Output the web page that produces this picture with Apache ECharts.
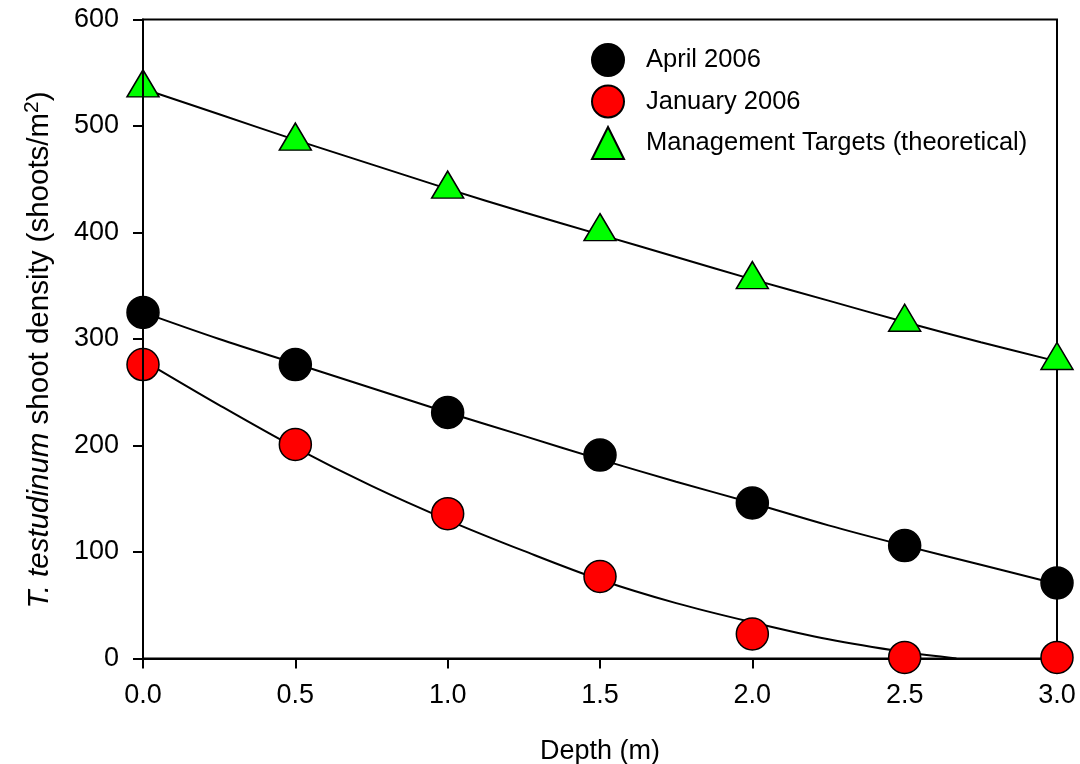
<!DOCTYPE html>
<html>
<head>
<meta charset="utf-8">
<title>T. testudinum shoot density vs depth</title>
<script src="https://cdn.jsdelivr.net/npm/echarts@6/dist/echarts.min.js"></script>
<style>
  html, body { margin: 0; padding: 0; background: #fff; }
  #chart { width: 1080px; height: 764px; }
</style>
</head>
<body>
<div id="chart"></div>
<script>
// Measured shoot densities by depth
const depth = [0, 0.5, 1.0, 1.5, 2.0, 2.5, 3.0];
const april2006 = [325, 276, 231, 191, 146, 106, 71];
const january2006 = [276, 201, 136, 77, 23, 1, 1];
const managementTargets = [540, 490, 445, 405, 360, 320, 284];

// Regression curves through each series
const fitDepth = [0, 0.25, 0.5, 0.75, 1.0, 1.25, 1.5, 1.75, 2.0, 2.25, 2.5, 2.75, 3.0];
const aprilFit = [325, 300, 277, 254, 231, 209, 187, 166, 146, 125, 106, 88, 70];
const managementFit = [535, 511, 487, 464, 441, 419, 398, 377, 356, 336, 316, 297, 279];
const januaryFitDepth = [0, 0.25, 0.5, 0.75, 1.0, 1.25, 1.5, 1.75, 2.0, 2.25, 2.5, 2.67];
const januaryFit = [280, 238, 198, 162, 130, 101, 74, 52, 34, 18, 6, 0];

// Axis ticks
const xTicks = { min: 0, max: 3, step: 0.5 };
const yTicks = { min: 0, max: 600, step: 100 };

const seriesNames = ['April 2006', 'January 2006', 'Management Targets (theoretical)'];

const FONT = "'Liberation Sans', Arial, Helvetica, sans-serif";
const pairs = (xs, ys) => xs.map((x, i) => [x, ys[i]]);

const chart = echarts.init(document.getElementById('chart'), null, { renderer: 'canvas' });

function fitLine(xs, ys) {
  return {
    type: 'line',
    data: pairs(xs, ys),
    showSymbol: false,
    symbol: 'none',
    smooth: 0.35,
    clip: true,
    z: 2,
    silent: true,
    lineStyle: { color: '#000', width: 2 }
  };
}

function points(name, ys, symbol, size, fill) {
  return {
    name: name,
    type: 'scatter',
    data: pairs(depth, ys),
    symbol: symbol,
    symbolSize: size,
    clip: false,
    z: 3,
    itemStyle: { color: fill, borderColor: '#000', borderWidth: 1.5, opacity: 1 }
  };
}

chart.setOption({
  animation: false,
  backgroundColor: '#fff',
  textStyle: { fontFamily: FONT, color: '#000' },
  grid: {
    left: 143, right: 23, top: 19.5, bottom: 105.5,
    outerBoundsMode: 'none',
    containLabel: false,
    show: true,
    borderColor: '#000',
    borderWidth: 2,
    backgroundColor: 'transparent'
  },
  legend: {
    data: seriesNames,
    orient: 'vertical',
    left: 586,
    top: 38,
    itemWidth: 32,
    itemHeight: 32,
    itemGap: 7.5,
    selectedMode: false,
    textStyle: { fontFamily: FONT, fontSize: 25.5, color: '#000', padding: [0, 0, 0, 17] }
  },
  xAxis: {
    type: 'value',
    min: xTicks.min,
    max: xTicks.max,
    interval: xTicks.step,
    name: 'Depth (m)',
    nameLocation: 'middle',
    nameGap: 80,
    nameTextStyle: { fontFamily: FONT, fontSize: 27, color: '#000' },
    axisLine: { show: true, onZero: false, lineStyle: { color: '#000', width: 2 } },
    axisTick: { show: true, inside: false, length: 10, lineStyle: { color: '#000', width: 2 } },
    axisLabel: {
      margin: 24, fontFamily: FONT, fontSize: 27, color: '#000',
      formatter: v => v.toFixed(1)
    },
    splitLine: { show: false }
  },
  yAxis: {
    type: 'value',
    min: yTicks.min,
    max: yTicks.max,
    interval: yTicks.step,
    z: 4,
    name: '{it|T. testudinum}{n| shoot density (shoots/m}{sup|2}{n|)}',
    nameLocation: 'middle',
    nameGap: 88,
    nameTextStyle: {
      fontFamily: FONT, fontSize: 29.5, color: '#000',
      padding: [0, 22, 0, 0],
      rich: {
        it: { fontFamily: FONT, fontSize: 29.5, fontStyle: 'italic', color: '#000', verticalAlign: 'bottom' },
        n: { fontFamily: FONT, fontSize: 29.5, color: '#000', verticalAlign: 'bottom' },
        sup: { fontFamily: FONT, fontSize: 21, color: '#000', verticalAlign: 'top', padding: [0, 0, 12, 0] }
      }
    },
    axisLine: { show: true, onZero: false, lineStyle: { color: '#000', width: 2 } },
    axisTick: { show: true, inside: false, length: 10, lineStyle: { color: '#000', width: 2 } },
    axisLabel: { margin: 24, fontFamily: FONT, fontSize: 27, color: '#000' },
    splitLine: { show: false }
  },
  series: [
    fitLine(fitDepth, managementFit),
    fitLine(fitDepth, aprilFit),
    fitLine(januaryFitDepth, januaryFit),
    points(seriesNames[0], april2006, 'circle', 32, '#000000'),
    points(seriesNames[1], january2006, 'circle', 32, '#ff0000'),
    points(seriesNames[2], managementTargets, 'triangle', [32, 27], '#00ff00')
  ]
});
</script>
</body>
</html>
